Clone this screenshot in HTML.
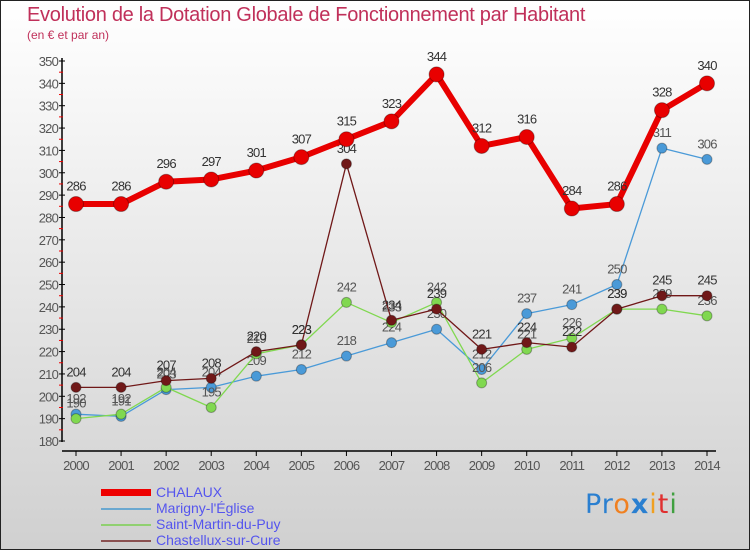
<!DOCTYPE html>
<html><head><meta charset="utf-8"><style>
body{margin:0}
#c{position:relative;width:748px;height:548px;border:1px solid #222;background:linear-gradient(#fff,#d0d0d0);font-family:"Liberation Sans",sans-serif;overflow:hidden}
.t{position:absolute;left:26px;top:3px;font-size:20px;color:#c0305a;letter-spacing:-0.3px}
.s{position:absolute;left:26px;top:27px;font-size:12px;color:#c0305a}
.lg{position:absolute;left:155px;font-size:14px;color:#5555ee;line-height:16px}
.ll{position:absolute;left:100px;width:50px}
</style></head><body>
<div id="c">
<div class="t">Evolution de la Dotation Globale de Fonctionnement par Habitant</div>
<div class="s">(en € et par an)</div>
<svg id="svg" width="748" height="548" style="position:absolute;left:0;top:0"></svg>
<div class="ll" style="top:488px;height:7px;background:#e00"></div>
<div class="lg" style="top:483px">CHALAUX</div>
<div class="ll" style="top:507px;height:2px;background:#6aa8d0"></div>
<div class="lg" style="top:499px">Marigny-l'Église</div>
<div class="ll" style="top:523px;height:2px;background:#90d070"></div>
<div class="lg" style="top:515px">Saint-Martin-du-Puy</div>
<div class="ll" style="top:539px;height:2px;background:#8a5050"></div>
<div class="lg" style="top:531px">Chastellux-sur-Cure</div>
<div style="position:absolute;left:584px;top:488px;font-size:27px;font-family:'DejaVu Sans',sans-serif;letter-spacing:1px"><span style="color:#2a7fd0">Pr</span><span style="color:#f08020">o</span><span style="color:#2a7fd0;font-weight:bold">x</span><span style="color:#f0a020">i</span><span style="color:#e03030">t</span><span style="color:#40a040">i</span></div>
</div>
<script>
const years=[2000,2001,2002,2003,2004,2005,2006,2007,2008,2009,2010,2011,2012,2013,2014];
const chalaux=[286,286,296,297,301,307,315,323,344,312,316,284,286,328,340];
const marigny=[192,191,203,204,209,212,218,224,230,212,237,241,250,311,306];
const stmartin=[190,192,204,195,219,223,242,233,242,206,221,226,239,239,236];
const chastellux=[204,204,207,208,220,223,304,234,239,221,224,222,239,245,245];
const yTicks=[180,190,200,210,220,230,240,250,260,270,280,290,300,310,320,330,340,350];
const NS='http://www.w3.org/2000/svg';
const svg=document.getElementById('svg');
const x=i=>75+i*(706-75)/(years.length-1);
const y=v=>440-(v-180)*(380/170);
function mk(t,a,p){const e=document.createElementNS(NS,t);for(const k in a)e.setAttribute(k,a[k]);(p||svg).appendChild(e);return e;}
let ax=mk('line',{x1:61,y1:57,x2:61,y2:441,stroke:'#000','stroke-width':1.5});


let bx=mk('line',{x1:61,y1:450,x2:715,y2:450,stroke:'#000','stroke-width':1.5});


yTicks.forEach(v=>{
  mk('line',{x1:58,y1:y(v),x2:64,y2:y(v),stroke:'#000'});
  if(v<350)mk('line',{x1:58,y1:y(v+5),x2:62,y2:y(v+5),stroke:'#e00'});
  const t=mk('text',{x:57,y:y(v)+5,'text-anchor':'end','font-size':13,fill:'#555','letter-spacing':'-0.8'});
  t.textContent=v;
  
  
});
years.forEach((yr,i)=>{
  mk('line',{x1:x(i),y1:450,x2:x(i),y2:455,stroke:'#000'});
  const t=mk('text',{x:x(i),y:469,'text-anchor':'middle','font-size':13,fill:'#555','letter-spacing':'-0.8'});
  t.textContent=yr;
  
  
});
function series(data,color,lw,r,name,labelColor){
  const g=mk('g',{});
  
  
  mk('polyline',{points:data.map((v,i)=>x(i)+','+y(v)).join(' '),fill:'none',stroke:color,'stroke-width':lw,'stroke-linejoin':'round'},g);
  data.forEach((v,i)=>{
    const c=mk('circle',{cx:x(i),cy:y(v),r:r,fill:color,stroke:'rgba(0,0,0,0.3)','stroke-width':1},g);
    
    
    const t=mk('text',{x:x(i),y:y(v)-r-6,'text-anchor':'middle','font-size':13,fill:labelColor,'letter-spacing':'-0.8'},g);
    t.textContent=v;
    
    
  });
}
series(marigny,'#4a9ad8',1.3,5,'marigny','#555');
series(stmartin,'#80d850',1.3,5,'saint-martin','#555');
series(chastellux,'#701818',1.3,5,'chastellux','#333');
series(chalaux,'#e80000',6,7.5,'chalaux','#333');
</script>
</body></html>
